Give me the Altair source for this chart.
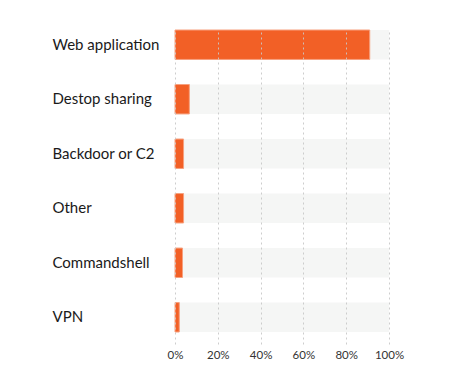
import altair as alt
import pandas as pd

categories = ["Web application", "Destop sharing", "Backdoor or C2", "Other", "Commandshell", "VPN"]
values = [0.91, 0.067, 0.04, 0.04, 0.035, 0.02]
full = [1.0] * len(categories)

df = pd.DataFrame({"category": categories, "value": values, "full": full})

yscale = alt.Scale(domain=categories, paddingInner=0.46, paddingOuter=0.11, align=0)
xscale = alt.Scale(domain=[0, 1])

bg = alt.Chart(df).mark_bar(color="#f5f6f5").encode(
    x=alt.X("full:Q", scale=xscale,
            axis=alt.Axis(format="%", values=[0, 0.2, 0.4, 0.6, 0.8, 1.0], title=None,
                          grid=True, gridDash=[2, 3], gridColor="#c8c8c8", gridOpacity=0.9,
                          domain=False, ticks=False, labelPadding=5, labelFont="Lato",
                          labelFontSize=11.5, labelColor="#333333", labelFlush=False,
                          zindex=1)),
    y=alt.Y("category:N", scale=yscale, sort=categories,
            axis=alt.Axis(title=None, ticks=False, domain=False, labelAlign="left",
                          labelPadding=123, labelFont="Lato", labelFontSize=15,
                          labelColor="#1a1a1a")),
)

bars = alt.Chart(df).mark_bar(color="#f26026", stroke="#f7a07e", strokeWidth=1).encode(
    x=alt.X("value:Q", scale=xscale),
    y=alt.Y("category:N", scale=yscale, sort=categories),
)

chart = alt.layer(bg, bars).properties(
    width=214, height=314,
    padding={"left": 44, "top": 21, "right": 5, "bottom": 5},
).configure_view(stroke=None)

chart.save("out.html", embed_options={"renderer": "svg", "actions": False})
